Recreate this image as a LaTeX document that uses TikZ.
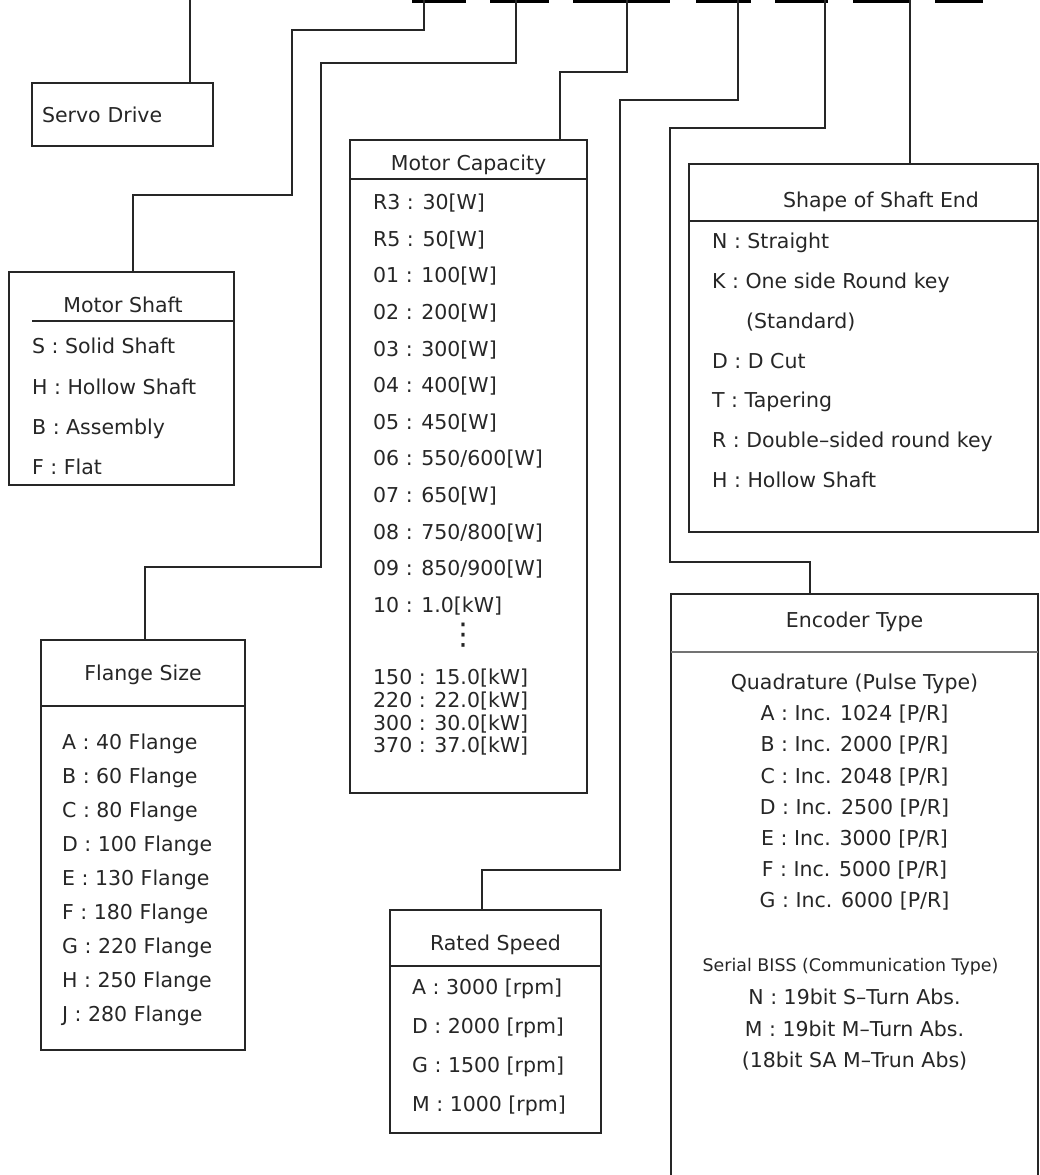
\documentclass[tikz,border=0pt]{standalone}
\usepackage{fontspec}
\setmainfont{DejaVu Sans}
\usetikzlibrary{calc}

\begin{document}
\begin{tikzpicture}[
    x=1pt, y=-1pt,
    box/.style={
        rectangle, draw=black!85, line width=2pt, anchor=north west,
        inner sep=0pt, outer sep=0pt
    },
    title/.style={
        anchor=base, inner sep=0pt, text=black!85,
        font=\fontsize{20.5}{24}\selectfont
    },
    entries/.style={
        anchor=north west, inner sep=0pt, align=left, text=black!85,
        font=\fontsize{20.5}{#1}\selectfont
    },
    centries/.style={
        entries=#1, anchor=north, align=center
    },
    divider/.style={line width=2pt, black!85},
    wire/.style={line width=2pt, black!85},
    codebar/.style={line width=3pt, black},
]
\useasboundingbox (0,0) rectangle (1039,1175);

% Code bars along the top edge
\draw[codebar] (412,1.5) -- (466,1.5);
\draw[codebar] (490,1.5) -- (549,1.5);
\draw[codebar] (573,1.5) -- (670,1.5);
\draw[codebar] (696,1.5) -- (751,1.5);
\draw[codebar] (775,1.5) -- (828,1.5);
\draw[codebar] (853,1.5) -- (910,1.5);
\draw[codebar] (935,1.5) -- (983,1.5);

\coordinate (bar_servo) at (190,0);
\coordinate (bar_shaft) at (424,0);
\coordinate (bar_flange) at (516,0);
\coordinate (bar_cap) at (627,0);
\coordinate (bar_speed) at (738,0);
\coordinate (bar_enc) at (825,0);
\coordinate (bar_end) at (910,0);

% Boxes
\node[box, minimum width=181pt, minimum height=63pt, text width=161pt,
    inner xsep=10pt, align=left, text=black!85,
    font=\fontsize{20.5}{24}\selectfont] (servo) at (32,83) {Servo Drive};
\node[box, minimum width=225pt, minimum height=213pt] (shaft) at (9,272) {};
\node[box, minimum width=204pt, minimum height=410pt] (flange) at (41,640) {};
\node[box, minimum width=237pt, minimum height=653pt] (cap) at (350,140) {};
\node[box, minimum width=211pt, minimum height=223pt] (speed) at (390,910) {};
\node[box, minimum width=349pt, minimum height=368pt] (shaftend) at (689,164) {};
\node[box, minimum width=367pt, minimum height=600pt] (enc) at (671,594) {};

% Motor shaft
\node[title] (shaft_title) at ($(shaft.north west)+(114,40.5)$) {Motor Shaft};
\draw[divider] ($(shaft.north west)+(23,49)$) -- ($(shaft.north east)+(0,49)$);
\node[entries=40.3] (shaft_list) at ($(shaft.north west)+(23,66)$)
    {S : Solid Shaft\\H : Hollow Shaft\\B : Assembly\\F : Flat};

% Flange size
\node[title] (flange_title) at ($(flange.north)+(0,40.5)$) {Flange Size};
\draw[divider] ($(flange.north west)+(0,66)$) -- ($(flange.north east)+(0,66)$);
\node[entries=34] (flange_list) at ($(flange.north west)+(21,94)$)
    {A : 40 Flange\\B : 60 Flange\\C : 80 Flange\\D : 100 Flange\\E : 130 Flange\\
     F : 180 Flange\\G : 220 Flange\\H : 250 Flange\\J : 280 Flange};

% Motor capacity
\node[title] (cap_title) at ($(cap.north)+(0,30.5)$) {Motor Capacity};
\draw[divider] ($(cap.north west)+(0,39)$) -- ($(cap.north east)+(0,39)$);
\node[entries=36.6] (cap_list) at ($(cap.north west)+(23,54)$)
    {R3 : 30[W]\\R5 : 50[W]\\01 : 100[W]\\02 : 200[W]\\03 : 300[W]\\04 : 400[W]\\
     05 : 450[W]\\06 : 550/600[W]\\07 : 650[W]\\08 : 750/800[W]\\09 : 850/900[W]\\
     10 : 1.0[kW]};
\node[inner sep=0pt, text=black!85, font=\fontsize{30}{30}\selectfont] (cap_dots)
    at ($(cap.north west)+(113,495)$) {⋮};
\node[entries=22.7] (cap_tail) at ($(cap.north west)+(23,529)$)
    {150 : 15.0[kW]\\220 : 22.0[kW]\\300 : 30.0[kW]\\370 : 37.0[kW]};

% Rated speed
\node[title] (speed_title) at ($(speed.north)+(0,40.5)$) {Rated Speed};
\draw[divider] ($(speed.north west)+(0,56)$) -- ($(speed.north east)+(0,56)$);
\node[entries=39] (speed_list) at ($(speed.north west)+(22,69)$)
    {A : 3000 [rpm]\\D : 2000 [rpm]\\G : 1500 [rpm]\\M : 1000 [rpm]};

% Shape of shaft end
\node[title] (end_title) at ($(shaftend.north west)+(192,43.5)$) {Shape of Shaft End};
\draw[divider] ($(shaftend.north west)+(0,57)$) -- ($(shaftend.north east)+(0,57)$);
\node[entries=39.8] (end_list) at ($(shaftend.north west)+(23,69)$)
    {N : Straight\\K : One side Round key\\\hspace*{34pt}(Standard)\\D : D Cut\\
     T : Tapering\\R : Double–sided round key\\H : Hollow Shaft};

% Encoder type
\node[title] (enc_title) at ($(enc.north)+(0,33.5)$) {Encoder Type};
\draw[divider, black!55] ($(enc.north west)+(0,58)$) -- ($(enc.north east)+(0,58)$);
\node[centries=31.1] (enc_quad) at ($(enc.north)+(0,80)$)
    {Quadrature (Pulse Type)\\A : Inc. 1024 [P/R]\\B : Inc. 2000 [P/R]\\
     C : Inc. 2048 [P/R]\\D : Inc. 2500 [P/R]\\E : Inc. 3000 [P/R]\\
     F : Inc. 5000 [P/R]\\G : Inc. 6000 [P/R]};
\node[title, font=\fontsize{17.4}{20}\selectfont] (enc_serial)
    at ($(enc.north)+(-4,377)$) {Serial BISS (Communication Type)};
\node[centries=31.5] (enc_serial_list) at ($(enc.north)+(0,395)$)
    {N : 19bit S–Turn Abs.\\M : 19bit M–Turn Abs.\\(18bit SA M–Trun Abs)};

% Lanes
\coordinate (shaft_turn) at (292,30);
\coordinate (shaft_drop) at (133,195);
\coordinate (flange_turn) at (321,63);
\coordinate (flange_drop) at (145,567);
\coordinate (cap_drop) at (560,72);
\coordinate (speed_turn) at (620,100);
\coordinate (speed_drop) at (482,870);
\coordinate (enc_turn) at (670,128);
\coordinate (enc_drop) at (810,562);

% Connectors from code bars to boxes
\draw[wire] (bar_servo) -- (bar_servo |- servo.north);
\draw[wire] (bar_shaft) |- (shaft_turn) |- (shaft_drop) -- (shaft_drop |- shaft.north);
\draw[wire] (bar_flange) |- (flange_turn) |- (flange_drop) -- (flange_drop |- flange.north);
\draw[wire] (bar_cap) |- (cap_drop) -- (cap_drop |- cap.north);
\draw[wire] (bar_speed) |- (speed_turn) |- (speed_drop) -- (speed_drop |- speed.north);
\draw[wire] (bar_enc) |- (enc_turn) |- (enc_drop) -- (enc_drop |- enc.north);
\draw[wire] (bar_end) -- (bar_end |- shaftend.north);

\end{tikzpicture}
\end{document}
